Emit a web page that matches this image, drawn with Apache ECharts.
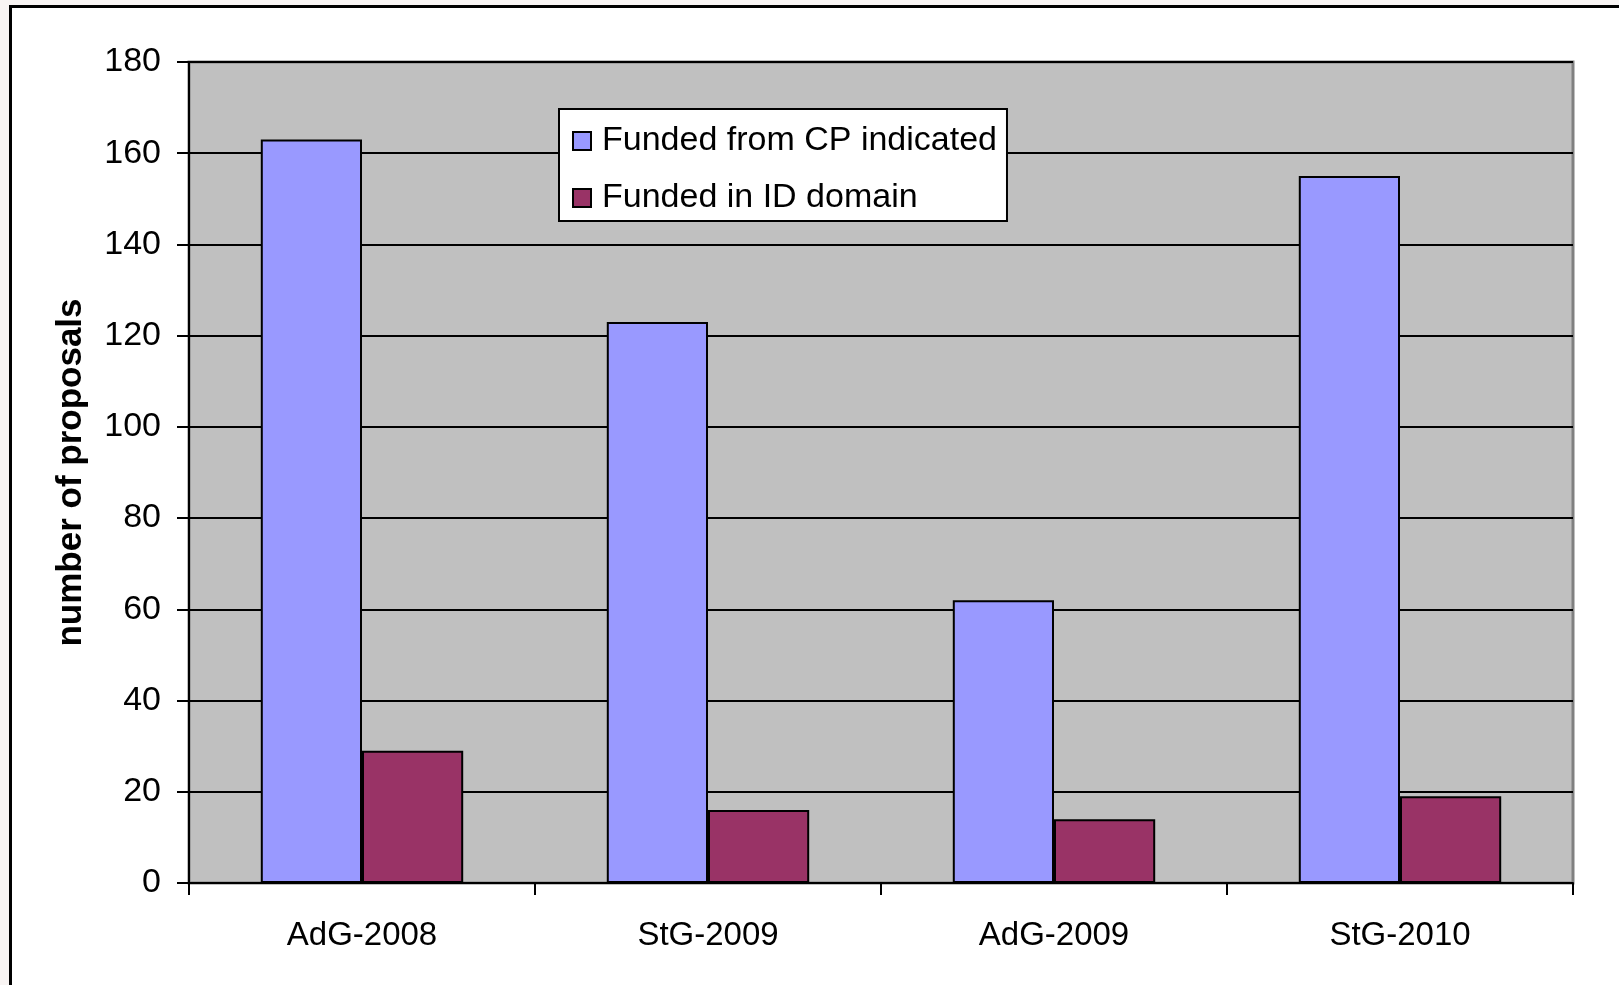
<!DOCTYPE html>
<html>
<head>
<meta charset="utf-8">
<script src="https://cdn.jsdelivr.net/npm/echarts@6/dist/echarts.min.js"></script>
<style>
  html, body { margin: 0; padding: 0; background: #F8F4F3; }
  #chart { width: 1619px; height: 985px; }
</style>
</head>
<body>
<div id="chart"></div>
<script>
const categories = ['AdG-2008', 'StG-2009', 'AdG-2009', 'StG-2010'];
const fundedCP = [163, 123, 62, 155];
const fundedID = [29, 16, 14, 19];
const seriesNames = ['Funded from CP indicated', 'Funded in ID domain'];
const yTicks = { min: 0, max: 180, interval: 20 };

const FONT = '"Liberation Sans", Arial, sans-serif';
const chart = echarts.init(document.getElementById('chart'), null, { renderer: 'canvas' });
chart.setOption({
  animation: false,
  textStyle: { fontFamily: FONT, color: '#000' },
  graphic: [{
    type: 'rect', z: -10, silent: true,
    shape: { x: 10.5, y: 6.5, width: 1700, height: 1100 },
    style: { fill: '#FFFFFF', stroke: '#000', lineWidth: 3 }
  }],
  grid: {
    left: 189, top: 62, width: 1384, height: 821,
    show: true, backgroundColor: '#C0C0C0', borderColor: '#808080', borderWidth: 3
  },
  legend: {
    orient: 'vertical', left: 559, top: 109,
    backgroundColor: '#FFFFFF', borderColor: '#000', borderWidth: 2,
    padding: [15, 10, 6, 13], itemGap: 23, itemWidth: 18, itemHeight: 18,
    icon: 'rect',
    textStyle: { fontFamily: FONT, fontSize: 34, color: '#000', padding: [0, 0, 0, 6] },
    data: seriesNames
  },
  xAxis: {
    type: 'category', data: categories,
    axisLine: { lineStyle: { color: '#000', width: 2 } },
    axisTick: { show: true, alignWithLabel: false, length: 12, lineStyle: { color: '#000', width: 2 } },
    axisLabel: { fontFamily: FONT, fontSize: 33, color: '#000', margin: 36 },
    splitLine: { show: false }
  },
  yAxis: {
    type: 'value', min: yTicks.min, max: yTicks.max, interval: yTicks.interval,
    name: 'number of proposals', nameLocation: 'middle', nameGap: 100,
    nameTextStyle: { fontFamily: FONT, fontSize: 35, fontWeight: 'bold', color: '#000' },
    axisLine: { show: true, lineStyle: { color: '#000', width: 2 } },
    axisTick: { show: true, length: 12, lineStyle: { color: '#000', width: 2 } },
    axisLabel: { fontFamily: FONT, fontSize: 34, color: '#000', margin: 28 },
    splitLine: { show: true, lineStyle: { color: '#000', width: 2 } }
  },
  series: [
    {
      name: seriesNames[0], type: 'bar', data: fundedCP,
      barGap: '0%', barCategoryGap: '41.5%',
      itemStyle: { color: '#9999FF', borderColor: '#000', borderWidth: 2 }
    },
    {
      name: seriesNames[1], type: 'bar', data: fundedID,
      barGap: '0%', barCategoryGap: '41.5%',
      itemStyle: { color: '#993366', borderColor: '#000', borderWidth: 2 }
    }
  ]
});
</script>
</body>
</html>
